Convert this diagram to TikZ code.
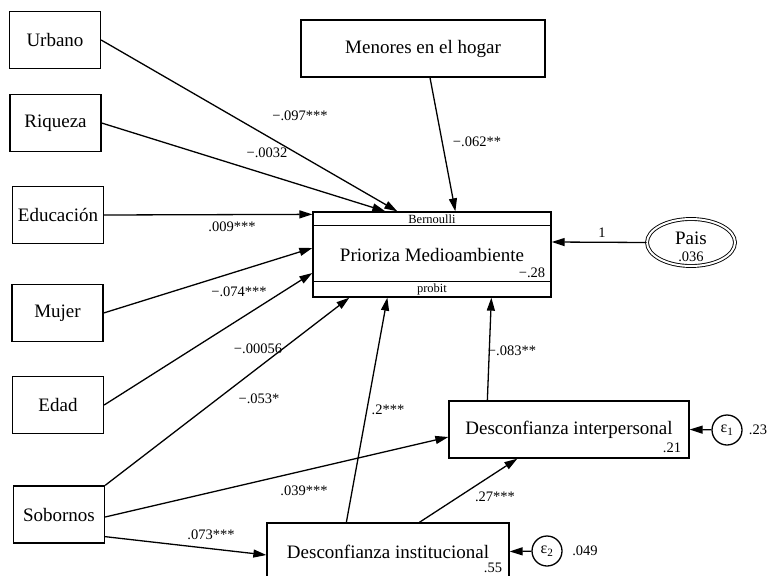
\documentclass[tikz,border=0pt]{standalone}
\usepackage{fontspec}
\setmainfont{Liberation Serif}
\usetikzlibrary{positioning,arrows.meta,shapes}

\begin{document}
\begin{tikzpicture}[x=1pt,y=-1pt,line width=1.3pt,>={Triangle[length=13pt,width=8pt]}]
	\tikzstyle{every node}=[font=\fontsize{19}{21}\selectfont]
	\tikzstyle{var}=[rectangle,draw,minimum width=91pt,minimum height=57pt,inner sep=0pt]
	\tikzstyle{coef}=[font=\fontsize{14.5}{16}\selectfont,inner sep=1pt]
	\tikzstyle{bandtext}=[font=\fontsize{12.5}{13}\selectfont,inner sep=1pt]
	\tikzstyle{err}=[circle,draw,minimum size=30pt,inner sep=0pt,font=\fontsize{16}{17}\selectfont]

	\useasboundingbox (0,0) rectangle (770,575);
	\clip (0,0) rectangle (770,575);

	%exogenous
	\node[var] (urbano) at (55,40) {Urbano};
	\node[var] (riqueza) at (55.5,123) {Riqueza};
	\node[var] (educ) at (58,215) {Educación};
	\node[var] (mujer) at (57.5,313) {Mujer};
	\node[var] (edad) at (58,405) {Edad};
	\node[var] (soborno) at (59,514.5) {Sobornos};
	\node[var,minimum width=244pt] (menores) at (423,48.5) {Menores en el hogar};

	%outcome
	\node[var,minimum width=238pt,minimum height=85pt] (prio) at (432,254.5) {Prioriza Medioambiente};
	\draw ([yshift=-14pt]prio.north west) -- ([yshift=-14pt]prio.north east);
	\draw ([yshift=16pt]prio.south west) -- ([yshift=16pt]prio.south east);
	\node[bandtext] (bern) at (432,219) {Bernoulli};
	\node[bandtext] (probit) at (432,289) {probit};
	\node[coef] (prioVar) at (532,273) {−.28};

	%random effect
	\node[ellipse,draw,double,double distance=2pt,line width=0.9pt,minimum width=88pt,minimum height=47pt] (pais) at (691,242.5) {};
	\node (paisTxt) at (691,238) {Pais};
	\node[coef] (paisVar) at (691,257) {.036};

	%mediators
	\node[var,minimum width=240pt] (interp) at (569,429.5) {Desconfianza interpersonal\hspace{14pt}};
	\node[coef] (interpVar) at (672,448) {.21};
	\node[var,minimum width=242pt] (inst) at (388,551.5) {Desconfianza institucional};
	\node[coef] (instVar) at (493,568) {.55};
	\node[err] (e1) at (727,430) {ε\textsubscript{1}};
	\node[coef] (e1Var) at (758,430) {.23};
	\node[err] (e2) at (547,551) {ε\textsubscript{2}};
	\node[coef] (e2Var) at (585,551) {.049};

	%paths
	\draw[->] (urbano.east) -- ([xshift=85pt]prio.north west);
	\draw[->] (riqueza.east) -- ([xshift=73pt]prio.north west);
	\draw[->] (educ.east) -- ([yshift=-3pt]prio.north west);
	\draw[->] (mujer.east) -- ([yshift=6.5pt]prio.west);
	\draw[->] (edad.east) -- ([yshift=-18.5pt]prio.west);
	\draw[->] (soborno.north east) -- ([xshift=37pt]prio.south west);
	\draw[->] ([xshift=7pt]menores.south) -- ([xshift=143pt]prio.north west);
	\draw[->] (pais.west) -- ([yshift=12.5pt]prio.east);
	\draw[->] ([xshift=80pt]inst.north west) -- ([xshift=75pt]prio.south west);
	\draw[->] ([xshift=153pt]inst.north west) -- ([xshift=69pt]interp.south west);
	\draw[->] ([xshift=39pt]interp.north west) -- ([xshift=179pt]prio.south west);
	\draw[->] ([yshift=-2.5pt]soborno.east) -- ([yshift=-7.5pt]interp.west);
	\draw[->] ([yshift=7pt]soborno.south east) -- ([yshift=-3.5pt]inst.west);
	\draw[->] (e1) -- (interp.east);
	\draw[->] (e2) -- (inst.east);

	%coefficients
	\node[coef] (cUrbano) at (300,116) {−.097***};
	\node[coef] (cRiqueza) at (267,153) {−.0032};
	\node[coef] (cEduc) at (232,227) {.009***};
	\node[coef] (cMujer) at (239,292) {−.074***};
	\node[coef] (cEdad) at (258,349) {−.00056};
	\node[coef] (cSoborno) at (259,399) {−.053*};
	\node[coef] (cSobInterp) at (304,491) {.039***};
	\node[coef] (cSobInst) at (211,535) {.073***};
	\node[coef] (cInst) at (388,410) {.2***};
	\node[coef] (cInstInterp) at (495,497) {.27***};
	\node[coef] (cInterp) at (512,351) {−.083**};
	\node[coef] (cMenores) at (477,142) {−.062**};
	\node[coef] (cPais) at (602,233) {1};

\end{tikzpicture}
\end{document}
